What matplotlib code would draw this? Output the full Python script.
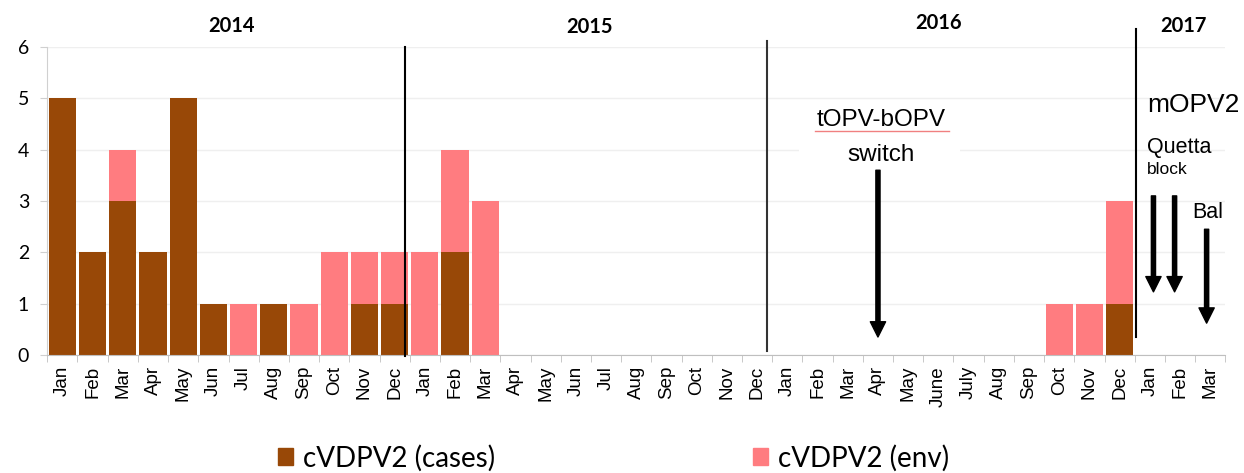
import numpy as np
import matplotlib.pyplot as plt
from matplotlib.patches import Patch, Rectangle

months = ['Jan', 'Feb', 'Mar', 'Apr', 'May', 'Jun', 'Jul', 'Aug', 'Sep', 'Oct', 'Nov', 'Dec',
          'Jan', 'Feb', 'Mar', 'Apr', 'May', 'Jun', 'Jul', 'Aug', 'Sep', 'Oct', 'Nov', 'Dec',
          'Jan', 'Feb', 'Mar', 'Apr', 'May', 'June', 'July', 'Aug', 'Sep', 'Oct', 'Nov', 'Dec',
          'Jan', 'Feb', 'Mar']

cases = [5, 2, 3, 2, 5, 1, 0, 1, 0, 0, 1, 1,
         0, 2, 0, 0, 0, 0, 0, 0, 0, 0, 0, 0,
         0, 0, 0, 0, 0, 0, 0, 0, 0, 0, 0, 1,
         0, 0, 0]
env = [0, 0, 1, 0, 0, 0, 1, 0, 1, 2, 1, 1,
       2, 2, 3, 0, 0, 0, 0, 0, 0, 0, 0, 0,
       0, 0, 0, 0, 0, 0, 0, 0, 0, 1, 1, 2,
       0, 0, 0]

years = ['2014', '2015', '2016', '2017']
year_x = [5.6, 17.45, 29.0, 37.1]
year_y = [6.42, 6.4, 6.46, 6.42]

c_cases = '#984807'
c_env = '#FF7C80'

fig = plt.figure(figsize=(12.44, 4.73), dpi=100)
ax = fig.add_axes([0.038, 0.2495, 0.947, 0.651])

x = np.arange(len(months))
ax.bar(x, cases, width=0.9, color=c_cases, zorder=2)
ax.bar(x, env, width=0.9, bottom=cases, color=c_env, zorder=2)

ax.set_xlim(-0.5, len(months) - 0.5)
ax.set_ylim(0, 6)
ax.set_yticks(range(7))
ax.grid(axis='y', color='#efefef', lw=1, zorder=0)
ax.set_axisbelow(True)

ax.set_xticks(x)
ax.set_xticklabels(months, rotation=90, fontsize=13.5, family='Liberation Sans')
ax.set_xticks(np.arange(-0.5, len(months)), minor=True)
ax.tick_params(axis='x', which='major', length=0, pad=8)
ax.tick_params(axis='x', which='minor', length=5, color='#bfbfbf')
ax.tick_params(axis='y', length=5, color='#d0d0d0', labelsize=14, pad=8)
for lab in ax.get_yticklabels():
    lab.set_family('Lato')
for s in ['top', 'right']:
    ax.spines[s].set_visible(False)
ax.spines['left'].set_color('#d0d0d0')
ax.spines['bottom'].set_color('#bfbfbf')

# year separators
ax.plot([11.35, 11.35], [6.0, -0.02], color='k', lw=1.5, clip_on=False, zorder=3)
ax.plot([23.33, 23.33], [6.11, 0.08], color='#333333', lw=1.5, clip_on=False, zorder=3)
ax.plot([35.53, 35.53], [6.36, 0.35], color='k', lw=1.5, clip_on=False, zorder=3)

for yr, xx, yy in zip(years, year_x, year_y):
    ax.text(xx, yy, yr, ha='center', va='center', fontsize=14.5, fontweight='bold',
            family='Lato', clip_on=False)

# switch annotation
ax.add_patch(Rectangle((24.4, 3.7), 5.3, 0.6, facecolor='white', edgecolor='none', zorder=1))
ax.text(27.1, 4.57, 'tOPV-bOPV', ha='center', va='center', fontsize=17.5, family='Liberation Sans')
ax.plot([24.9, 29.35], [4.36, 4.36], color='#f08080', lw=1, zorder=3)
ax.text(27.1, 3.89, 'switch', ha='center', va='center', fontsize=17.5, family='Liberation Sans')

arrow = dict(width=3, headwidth=11, headlength=11, color='k', shrink=0)
ax.annotate('', xy=(27.0, 0.35), xytext=(27.0, 3.6), arrowprops=arrow)
ax.annotate('', xy=(36.12, 1.23), xytext=(36.12, 3.1), arrowprops=arrow)
ax.annotate('', xy=(36.82, 1.23), xytext=(36.82, 3.1), arrowprops=arrow)
ax.annotate('', xy=(37.88, 0.62), xytext=(37.88, 2.45), arrowprops=arrow)

ax.text(35.9, 4.88, 'mOPV2', ha='left', va='center', fontsize=19, family='Liberation Sans', clip_on=False)
ax.text(35.9, 4.05, 'Quetta', ha='left', va='center', fontsize=15.5, family='Liberation Sans')
ax.text(35.9, 3.62, 'block', ha='left', va='center', fontsize=12.5, family='Liberation Sans')
ax.text(37.4, 2.78, 'Bal', ha='left', va='center', fontsize=15.5, family='Liberation Sans')

handles = [Patch(color=c_cases, label='cVDPV2 (cases)'),
           Patch(color=c_env, label='cVDPV2 (env)')]
fig.legend(handles=handles, loc='center', bbox_to_anchor=(0.493, 0.032), ncol=2, frameon=False,
           prop={'family': 'Lato', 'size': 20}, columnspacing=9.3, handlelength=0.55,
           handleheight=0.55, handletextpad=0.35)

fig.savefig('out.png', dpi=100)
